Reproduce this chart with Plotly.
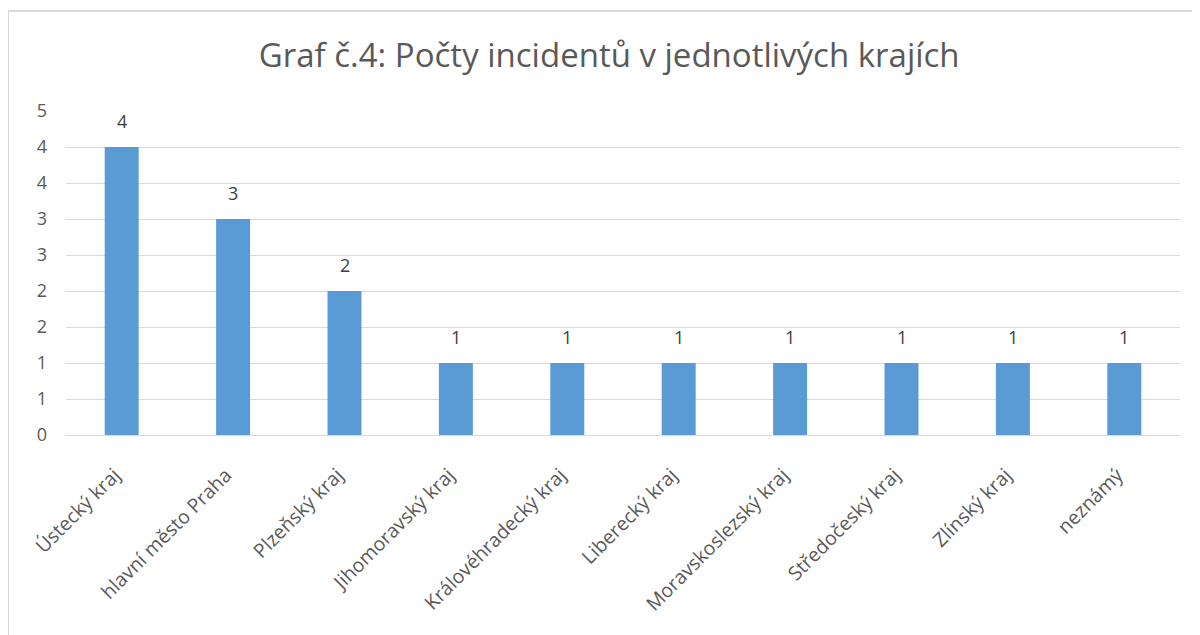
import plotly.graph_objects as go

categories = ["Ústecký kraj", "hlavní město Praha", "Plzeňský kraj", "Jihomoravský kraj",
              "Královéhradecký kraj", "Liberecký kraj", "Moravskoslezský kraj",
              "Středočeský kraj", "Zlínský kraj", "neznámý"]
values = [4, 3, 2, 1, 1, 1, 1, 1, 1, 1]
y_tick_vals = [0, 0.5, 1, 1.5, 2, 2.5, 3, 3.5, 4, 4.5]
y_tick_text = ["0", "1", "1", "2", "2", "3", "3", "4", "4", "5"]
title = "Graf č.4: Počty incidentů v jednotlivých krajích"

FONT = "Open Sans"

fig = go.Figure(go.Bar(
    x=categories, y=values,
    marker=dict(color="#5b9bd5", line=dict(width=0)),
    cliponaxis=False,
))

annotations = [
    dict(x=c, y=v, xref="x", yref="y", text=str(v), showarrow=False,
         yanchor="middle", yshift=26,
         font=dict(family=FONT, size=18, color="#404040"))
    for c, v in zip(categories, values)
]

fig.update_layout(
    width=1200, height=635,
    margin=dict(l=58, r=28, t=103, b=208, autoexpand=False),
    paper_bgcolor="white", plot_bgcolor="white",
    bargap=0.695,
    showlegend=False,
    title=dict(text=title, x=0.501, xanchor="center", y=0.925, yanchor="middle",
               font=dict(family=FONT, size=33, color="#595959")),
    xaxis=dict(tickangle=-45, tickfont=dict(family=FONT, size=19.5, color="#595959"),
               showgrid=False, showline=True, linecolor="#d9d9d9", linewidth=1,
               ticks="", ticklabelstandoff=20, ticklabelshift=-7, fixedrange=True),
    yaxis=dict(range=[0, 4.5], tickvals=y_tick_vals, ticktext=y_tick_text,
               tickfont=dict(family=FONT, size=18, color="#595959"),
               showgrid=True, gridcolor="#d9d9d9", gridwidth=1,
               zeroline=False, showline=False, ticks="", ticklabelstandoff=18),
    annotations=annotations,
    shapes=[
        dict(type="line", xref="paper", yref="paper", x0=-0.052, x1=1.1, y0=1.3086, y1=1.3086,
             line=dict(color="#d9d9d9", width=2)),
        dict(type="line", xref="paper", yref="paper", x0=-0.052, x1=-0.052, y0=1.3086, y1=-1.0,
             line=dict(color="#d9d9d9", width=2)),
    ],
)

fig.write_html("out.html")
